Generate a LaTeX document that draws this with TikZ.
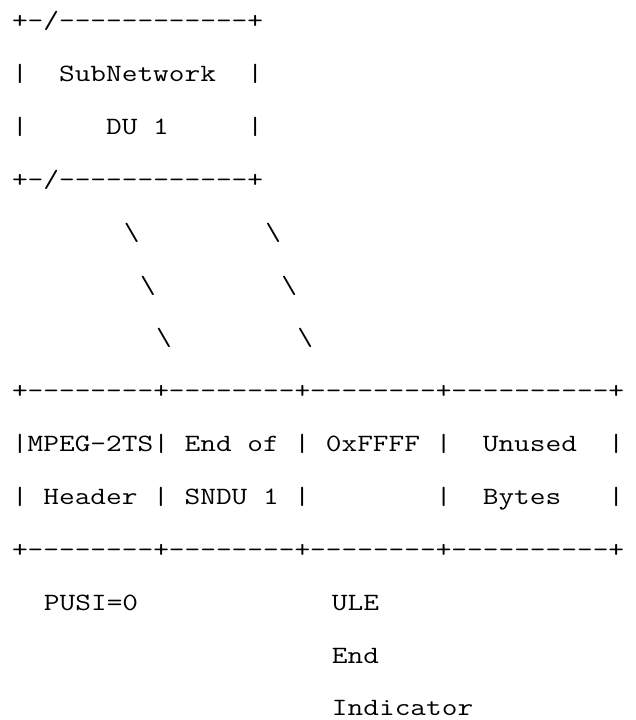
\documentclass[tikz,border=0pt]{standalone}
\usepackage{fontspec}
\setmonofont{Latin Modern Mono}[FakeStretch=1.225]
\begin{document}
\begin{tikzpicture}[x=8pt, y=-26.43pt,
    asciirow/.style={anchor=base west, inner sep=0pt, outer sep=0pt, font=\ttfamily\fontsize{12.44}{26}\selectfont}]
    \useasboundingbox (-6pt,14.4pt) rectangle (312pt,-345.6pt);
    \node[asciirow] (boxtop) at (0,0) {+-/------------+};
    \node[asciirow] (boxname) at (0,1) {|~~SubNetwork~~|};
    \node[asciirow] (boxdu) at (0,2) {|~~~~~DU~1~~~~~|};
    \node[asciirow] (boxbottom) at (0,3) {+-/------------+};
    \node[asciirow] (slashA) at (7,4) {\textbackslash~~~~~~~~\textbackslash};
    \node[asciirow] (slashB) at (8,5) {\textbackslash~~~~~~~~\textbackslash};
    \node[asciirow] (slashC) at (9,6) {\textbackslash~~~~~~~~\textbackslash};
    \node[asciirow] (tabletop) at (0,7) {+--------+--------+--------+----------+};
    \node[asciirow] (tablefirst) at (0,8) {|MPEG-2TS|~End~of~|~0xFFFF~|~~Unused~~|};
    \node[asciirow] (tablesecond) at (0,9) {|~Header~|~SNDU~1~|~~~~~~~~|~~Bytes~~~|};
    \node[asciirow] (tablebottom) at (0,10) {+--------+--------+--------+----------+};
    \node[asciirow] (pusi) at (2,11) {PUSI=0};
    \node[asciirow] (ule) at (20,11) {ULE};
    \node[asciirow] (uleend) at (20,12) {End};
    \node[asciirow] (ind) at (20,13) {Indicator};
\end{tikzpicture}
\end{document}
